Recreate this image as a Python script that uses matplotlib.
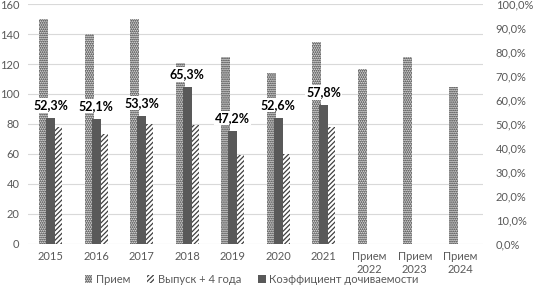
import matplotlib
matplotlib.use('Agg')
import matplotlib.pyplot as plt
import numpy as np

# data
categories = ['2015', '2016', '2017', '2018', '2019', '2020', '2021',
              'Прием\n2022', 'Прием\n2023', 'Прием\n2024']
priem = [150, 140, 150, 121, 125, 114, 135, 117, 125, 105]
vypusk = [78, 73, 80, 79, 59, 60, 78]
koef = [52.3, 52.1, 53.3, 65.3, 47.2, 52.6, 57.8]

plt.rcParams['font.family'] = ['Lato', 'DejaVu Sans']
plt.rcParams['hatch.linewidth'] = 0.9

fig = plt.figure(figsize=(5.35, 2.89), dpi=100)
ax = fig.add_axes([0.052, 0.156, 0.851, 0.830])
ax2 = ax.twinx()

x = np.arange(len(categories))
w = 0.2
xv = np.arange(len(vypusk))

ax.bar(x - 0.155, priem, w, color='#e8e8e8', edgecolor='#202020', hatch='........',
       linewidth=0, zorder=2, label='Прием')
ax.bar(xv + 0.155, vypusk, w, color='white', edgecolor='#404040', hatch='///////',
       linewidth=0, zorder=2, label='Выпуск + 4 года')
ax2.bar(xv, koef, w, color='#595959', linewidth=0, zorder=3,
        label='Коэффициент дочиваемости')

for xi, k in zip(xv, koef):
    ax2.annotate(f'{k:.1f}%'.replace('.', ','), (xi, k), xytext=(0, 5),
                 textcoords='offset points', ha='center', va='bottom',
                 fontsize=9, fontweight='bold', color='black', zorder=5,
                 bbox=dict(boxstyle='square,pad=0.1', fc='white', ec='none'))

ax.set_xlim(-0.5, len(categories) - 0.5)
ax.set_ylim(0, 160)
ax.set_yticks(range(0, 161, 20))
ax2.set_ylim(0, 100)
ax2.set_yticks(range(0, 101, 10))
ax2.set_yticklabels([f'{v:.1f}%'.replace('.', ',') for v in range(0, 101, 10)])

ax.set_xticks(x)
ax.set_xticklabels(categories)
ax.yaxis.grid(True, color='#d9d9d9', linewidth=0.8, zorder=0)
ax.set_axisbelow(True)

for a in (ax, ax2):
    for s in a.spines.values():
        s.set_visible(False)
    a.tick_params(length=0, labelsize=8, labelcolor='#595959')
ax.tick_params(axis='x', pad=5)
ax.tick_params(axis='y', pad=6)
ax2.tick_params(axis='y', pad=9)

h1, l1 = ax.get_legend_handles_labels()
h2, l2 = ax2.get_legend_handles_labels()
fig.legend(h1 + h2, l1 + l2, loc='lower center', bbox_to_anchor=(0.47, -0.02),
           ncol=3, frameon=False, fontsize=8, labelcolor='#595959',
           handlelength=0.7, handleheight=0.7, handletextpad=0.3, columnspacing=1.5)

fig.savefig('out.png', dpi=100)
